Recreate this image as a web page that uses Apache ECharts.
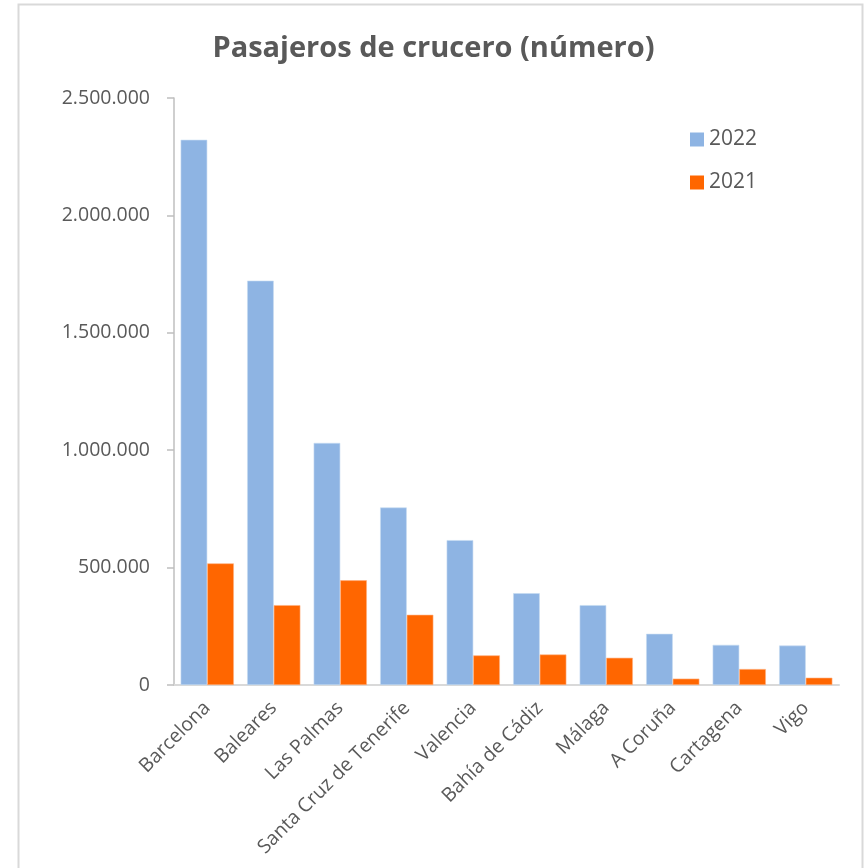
<!DOCTYPE html>
<html>
<head>
<meta charset="utf-8">
<script src="https://cdn.jsdelivr.net/npm/echarts@6/dist/echarts.min.js"></script>
<style>
    html, body { margin: 0; padding: 0; background: #fff; }
    #chart { width: 867px; height: 868px; }
</style>
</head>
<body>
<div id="chart"></div>
<script>
// puertos con más pasajeros de crucero
var ports = ['Barcelona', 'Baleares', 'Las Palmas', 'Santa Cruz de Tenerife', 'Valencia',
    'Bahía de Cádiz', 'Málaga', 'A Coruña', 'Cartagena', 'Vigo'];
var pax2022 = [2322000, 1722000, 1031000, 756000, 617000, 391000, 340000, 218000, 171000, 168000];
var pax2021 = [518000, 340000, 446000, 299000, 126000, 130000, 116000, 27000, 68000, 31000];
var yTicks = [0, 500000, 1000000, 1500000, 2000000, 2500000];

var txt = '#595959';

function fmt(v) {
    // separador de miles con punto
    return String(v).replace(/\B(?=(\d{3})+(?!\d))/g, '.');
}

var chart = echarts.init(document.getElementById('chart'));
var option = {
    backgroundColor: '#fff',
    animation: false,
    textStyle: { fontFamily: 'Open Sans' },
    title: {
        text: 'Pasajeros de crucero (número)',
        left: 'center',
        top: 29,
        textStyle: {
            color: txt,
            fontSize: 29,
            fontWeight: 'bold',
            fontFamily: 'Open Sans'
        }
    },
    legend: {
        orient: 'vertical',
        left: 685,
        top: 124,
        itemWidth: 14,
        itemHeight: 14,
        itemGap: 22,
        icon: 'rect',
        itemStyle: { borderWidth: 0 },
        textStyle: { color: txt, fontSize: 21, padding: [0, 0, 0, 0] },
        data: ['2022', '2021']
    },
    grid: {
        left: 174,
        right: 28,
        top: 98,
        bottom: 183
    },
    xAxis: {
        type: 'category',
        data: ports,
        axisLine: { lineStyle: { color: '#d9d9d9', width: 2 } },
        axisTick: { show: false },
        axisLabel: {
            rotate: 45,
            color: txt,
            fontSize: 19.5,
            margin: 20,
            interval: 0
        }
    },
    yAxis: {
        type: 'value',
        min: yTicks[0],
        max: yTicks[yTicks.length - 1],
        interval: yTicks[1] - yTicks[0],
        splitLine: { show: false },
        axisLine: { show: true, lineStyle: { color: '#bfbfbf', width: 1.5 } },
        axisTick: { show: true, length: 7, lineStyle: { color: '#bfbfbf', width: 1.5 } },
        axisLabel: {
            color: txt,
            fontSize: 19.5,
            margin: 24,
            formatter: fmt
        }
    },
    series: [
        {
            name: '2022',
            type: 'bar',
            data: pax2022,
            barGap: '0%',
            barCategoryGap: '20%',
            itemStyle: { color: '#8eb4e3', borderColor: '#c6dbf2', borderWidth: 0.6 }
        },
        {
            name: '2021',
            type: 'bar',
            data: pax2021,
            itemStyle: { color: '#ff6600', borderColor: '#ffb080', borderWidth: 0.6 }
        }
    ],
    graphic: [
        {
            type: 'rect',
            silent: true,
            shape: { x: 18.5, y: 4.5, width: 844, height: 900 },
            style: { fill: 'none', stroke: '#d9d9d9', lineWidth: 2 }
        }
    ]
};
chart.setOption(option);
</script>
</body>
</html>
